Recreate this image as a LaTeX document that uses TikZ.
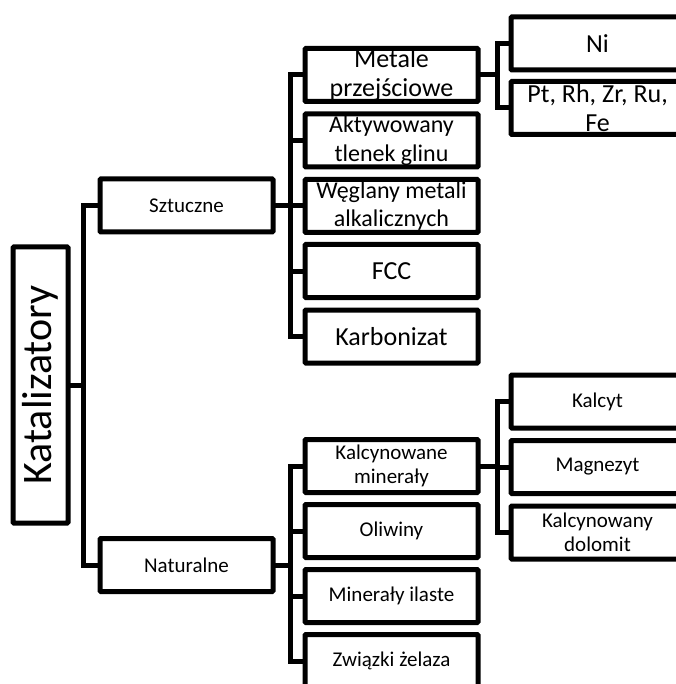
\documentclass[tikz,border=0pt]{standalone}
\usepackage{fontspec}
\setmainfont{Carlito}
\usepackage{tikz}
\usetikzlibrary{positioning}
\tikzset{
  catbox/.style={draw=black,line width=5pt,fill=white,align=center,inner sep=0pt,
    outer sep=0pt,rounded corners=1pt,minimum width=173pt,minimum height=53pt},
  bigtext/.style={font=\fontsize{26}{28.5}\selectfont},
  midtext/.style={font=\fontsize{24}{28.5}\selectfont},
  smalltext/.style={font=\fontsize{21}{24}\selectfont},
  branch/.style={line width=5pt,draw=black}
}

\begin{document}
\begin{tikzpicture}[x=1pt,y=-1pt]
\path[fill=white,use as bounding box] (0,0) rectangle (675,684);
\node[catbox,minimum width=55pt,minimum height=276pt,font=\fontsize{42}{42}\selectfont] (kat) at (40.5,385) {\rotatebox{90}{Katalizatory}};
\node[catbox,smalltext] (szt) at (186.5,205.5) {Sztuczne};
\node[catbox,smalltext] (nat) at (186.5,565) {Naturalne};
% sztuczne
\node[catbox,bigtext] (metale) at (391.5,75) {Metale\\przejściowe};
\node[catbox,midtext] (tlenek) at (391.5,140.5) {Aktywowany\\tlenek glinu};
\node[catbox,midtext] (weglany) at (391.5,206) {Węglany metali\\alkalicznych};
\node[catbox,bigtext] (fcc) at (391.5,271) {FCC};
\node[catbox,bigtext] (karbo) at (391.5,336.5) {Karbonizat};
\node[catbox,bigtext] (ni) at (597.5,43.5) {Ni};
\node[catbox,bigtext] (ptrh) at (597.5,108) {Pt, Rh, Zr, Ru,\\Fe};
% naturalne
\node[catbox,smalltext] (kalmin) at (391.5,466) {Kalcynowane\\minerały};
\node[catbox,smalltext] (oliw) at (391.5,531) {Oliwiny};
\node[catbox,smalltext] (ilaste) at (391.5,596) {Minerały ilaste};
\node[catbox,smalltext] (zelazo) at (391.5,661) {Związki żelaza};
\node[catbox,smalltext] (kalcyt) at (597.5,401.5) {Kalcyt};
\node[catbox,smalltext] (magn) at (597.5,467) {Magnezyt};
\node[catbox,smalltext] (dolomit) at (597.5,532.5) {Kalcynowany\\dolomit};
% connectors
\draw[branch] (kat.east) -- ++(15,0) |- (szt.west);
\draw[branch] (kat.east) -- ++(15,0) |- (nat.west);
\draw[branch] (szt.east) -- ++(17,0) |- (metale.west);
\draw[branch] (szt.east) -- ++(17,0) |- (tlenek.west);
\draw[branch] (szt.east) -- ++(17,0) |- (weglany.west);
\draw[branch] (szt.east) -- ++(17,0) |- (fcc.west);
\draw[branch] (szt.east) -- ++(17,0) |- (karbo.west);
\draw[branch] (metale.east) -- ++(19,0) |- (ni.west);
\draw[branch] (metale.east) -- ++(19,0) |- (ptrh.west);
\draw[branch] (nat.east) -- ++(17,0) |- (kalmin.west);
\draw[branch] (nat.east) -- ++(17,0) |- (oliw.west);
\draw[branch] (nat.east) -- ++(17,0) |- (ilaste.west);
\draw[branch] (nat.east) -- ++(17,0) |- (zelazo.west);
\draw[branch] (kalmin.east) -- ++(19,0) |- (kalcyt.west);
\draw[branch] (kalmin.east) -- ++(19,0) |- (magn.west);
\draw[branch] (kalmin.east) -- ++(19,0) |- (dolomit.west);
\end{tikzpicture}
\end{document}
